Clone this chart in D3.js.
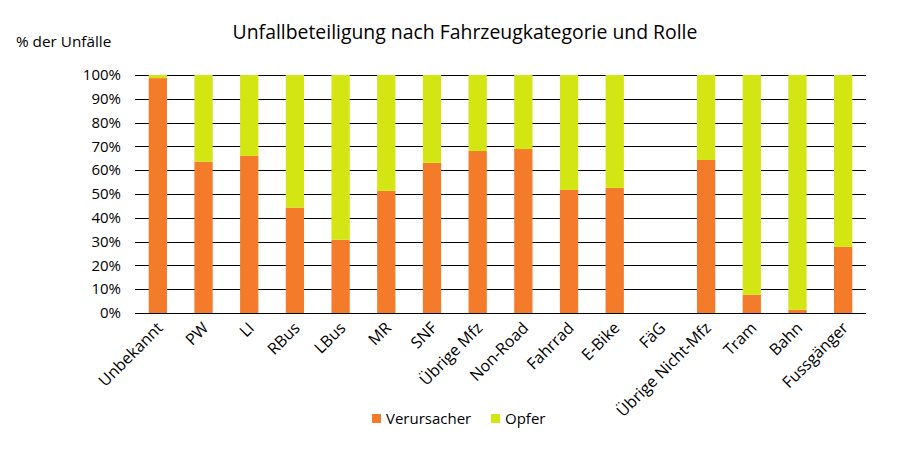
<!DOCTYPE html>
<html><head><meta charset="utf-8">
<script src="https://cdn.jsdelivr.net/npm/d3@7"></script>
<style>
body{margin:0;background:#fff;}
svg text{font-family:"Open Sans","Noto Sans",sans-serif;fill:#000;}
</style></head>
<body><svg id="c" width="911" height="451"></svg>
<script>
const categories = ["Unbekannt","PW","LI","RBus","LBus","MR","SNF","Übrige Mfz","Non-Road","Fahrrad","E-Bike","FäG","Übrige Nicht-Mfz","Tram","Bahn","Fussgänger"];
const verursacher = [98.7,63.6,66.0,44.3,30.8,51.3,63.1,68.1,68.9,51.7,52.6,0,64.3,7.7,1.4,27.8];
const opfer = [1.3,36.4,34.0,55.7,69.2,48.7,36.9,31.9,31.1,48.3,47.4,0,35.7,92.3,98.6,72.2];
const yTicks = [0,10,20,30,40,50,60,70,80,90,100];
const seriesNames = ["Verursacher","Opfer"];
const colors = ["#F47B29","#D3E512"];

const svg = d3.select("#c");
const m = {l:135, r:866, t:75, b:313};
const x = d3.scaleBand().domain(categories).range([m.l, m.r]).paddingInner(0.6).paddingOuter(0.3);
const y = d3.scaleLinear().domain([0,100]).range([m.b, m.t]);

// grid
svg.append("g").selectAll("line").data(yTicks).join("line")
  .attr("x1", m.l).attr("x2", m.r)
  .attr("y1", d=>Math.round(y(d))+0.5).attr("y2", d=>Math.round(y(d))+0.5)
  .attr("stroke","#000").attr("stroke-width",1);

const rows = categories.map((c,i)=>({c, v:verursacher[i], o:opfer[i]}));
const stack = d3.stack().keys(["v","o"])(rows);
svg.append("g").selectAll("g").data(stack).join("g")
  .attr("fill",(d,i)=>colors[i])
  .selectAll("rect").data(d=>d.filter(p=>p[1]-p[0]>0)).join("rect")
  .attr("x", d=>x(d.data.c)).attr("width", x.bandwidth())
  .attr("y", d=>y(d[1])).attr("height", d=>y(d[0])-y(d[1]));

// y tick labels
svg.append("g").selectAll("text").data(yTicks).join("text")
  .attr("x", 121).attr("y", d=>y(d)).attr("dy","0.35em")
  .attr("text-anchor","end").style("font-size","15px")
  .text(d=>d+"%");

// x labels
svg.append("g").selectAll("text").data(categories).join("text")
  .attr("transform", d=>`translate(${x(d)+x.bandwidth()/2+6},${329}) rotate(-45)`)
  .attr("text-anchor","end").style("font-size","16px")
  .text(d=>d);

// title
svg.append("text").attr("x",465).attr("y",39).attr("text-anchor","middle")
  .style("font-size","19.4px").text("Unfallbeteiligung nach Fahrzeugkategorie und Rolle");
svg.append("text").attr("x",16).attr("y",47).style("font-size","15.3px").text("% der Unfälle");

// legend
const lg = svg.append("g");
const lx = [372, 491];
seriesNames.forEach((s,i)=>{
  lg.append("rect").attr("x",lx[i]).attr("y",414).attr("width",9).attr("height",9).attr("fill",colors[i]);
  lg.append("text").attr("x",lx[i]+14).attr("y",424).style("font-size","15px").text(s);
});
</script></body></html>
